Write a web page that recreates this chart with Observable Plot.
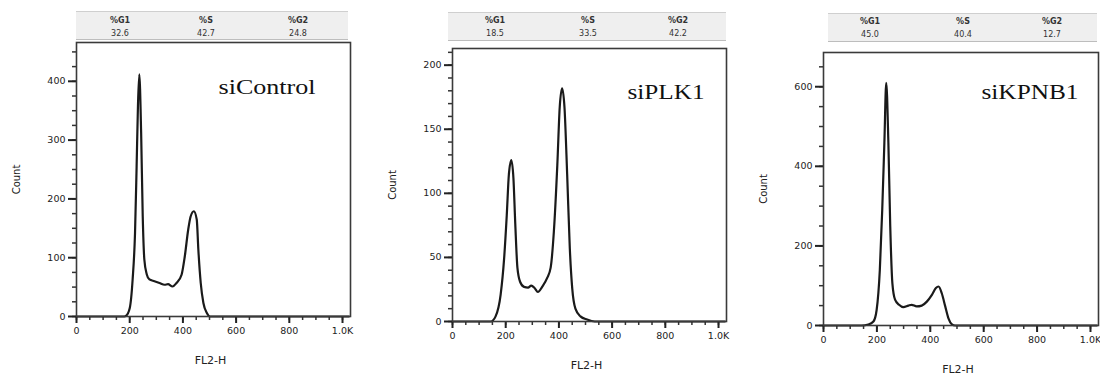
<!DOCTYPE html>
<html><head><meta charset="utf-8">
<script src="https://cdn.jsdelivr.net/npm/d3@7"></script>
<script src="https://cdn.jsdelivr.net/npm/@observablehq/plot@0.6"></script>
<style>
html,body{margin:0;padding:0;background:#fff;}
#root{position:relative;width:1100px;height:379px;overflow:hidden;font-family:"DejaVu Sans",sans-serif;}
.panel{position:absolute;}
.panel svg{overflow:visible;}
.tbl{position:absolute;background:#efefef;border-top:1px solid #cfcfcf;border-bottom:1.5px solid #bdbdbd;box-sizing:border-box;}
.cell{position:absolute;transform:translate(-50%,-50%);font-size:8px;color:#333;white-space:nowrap;line-height:1;}
.hdr{font-weight:bold;}
</style></head><body><div id="root"></div>
<script>
// ---- data ----
const samples = ["siControl", "siPLK1", "siKPNB1"];
const phaseLabels = ["%G1", "%S", "%G2"];
const pctG1 = [32.6, 18.5, 45.0];
const pctS  = [42.7, 33.5, 40.4];
const pctG2 = [24.8, 42.2, 12.7];

const ctrlX     = [0,180,186,200,211,220,226,231,236,243,249,255,264,274,293,312,331,344,361,376,395,407,420,429,441,452,458,467,477,490,502,1024];
const ctrlCount = [0,0,1,14,63,142,255,358,412,312,170,97,72,63,60,57,54,55,51,57,71,102,148,170,179,165,114,57,23,6,0,0];

const plkX     = [0,144,162,181,194,204,212,221,229,236,244,254,269,284,296,309,321,337,356,369,381,394,403,412,421,431,441,450,462,481,506,535,1024];
const plkCount = [0,0,4,21,49,83,115,126,112,76,42,31,27,26.5,28,26,23,27,34,42,70,122,167,182,167,115,57,26,10,4,1.5,0,0];

const kpnbX     = [0,143,168,187,199,211,220,228,235,243,250,258,268,283,299,318,330,349,368,387,406,421,431,443,456,468,481,493,1024];
const kpnbCount = [0,0,2.5,10,39,140,291,459,610,459,249,106,65,52,46,50,52,48,50,60,77,94,98,81,48,18,3,0,0];

const xMajorTicks = [0, 200, 400, 600, 800, 1000];
const xTickLabels = ["0", "200", "400", "600", "800", "1.0K"];
const xMinorTicks = d3.range(0, 1001, 50);

const ctrlYMajor = [0, 100, 200, 300, 400];
const plkYMajor  = [0, 50, 100, 150, 200];
const kpnbYMajor = [0, 200, 400, 600];

const seriesX = [ctrlX, plkX, kpnbX];
const seriesY = [ctrlCount, plkCount, kpnbCount];
const yMajors = [ctrlYMajor, plkYMajor, kpnbYMajor];
const yMinorSteps = [25, 10, 50];

// ---- layout ----
const layout = [
  {left:0,   top:40, width:370, height:336, ml:76, mr:20, mb:60, yMax:466, titleDx:142, titleDy:36, titleLen:97,
   tbl:{left:76, top:11, width:272, cols:[44,130,222]}},
  {left:370, top:46, width:370, height:330, ml:82, mr:14, mb:55, yMax:213, titleDx:175, titleDy:35, titleLen:77,
   tbl:{left:448, top:11.5, width:278, cols:[47,140,230]}},
  {left:740, top:50, width:360, height:327, ml:83, mr:2, mb:52, yMax:686, titleDx:158, titleDy:31, titleLen:97,
   tbl:{left:828, top:12.5, width:269, cols:[42,135,224]}}
];

const root = document.getElementById("root");

layout.forEach((p, i) => {
  // stats table
  const t = document.createElement("div");
  t.className = "tbl";
  Object.assign(t.style, {left: p.tbl.left + "px", top: p.tbl.top + "px", width: p.tbl.width + "px", height: "29px"});
  const vals = [pctG1[i], pctS[i], pctG2[i]];
  phaseLabels.forEach((lab, j) => {
    const h = document.createElement("span");
    h.className = "cell hdr"; h.textContent = lab;
    h.style.left = p.tbl.cols[j] + "px"; h.style.top = "8.5px";
    t.appendChild(h);
    const v = document.createElement("span");
    v.className = "cell"; v.textContent = vals[j].toFixed(1);
    v.style.left = p.tbl.cols[j] + "px"; v.style.top = "21.5px";
    t.appendChild(v);
  });
  root.appendChild(t);

  const data = seriesX[i].map((x, k) => ({x, y: seriesY[i][k]}));
  const yMinor = d3.range(0, p.yMax, yMinorSteps[i]);

  const chart = Plot.plot({
    width: p.width, height: p.height,
    marginLeft: p.ml, marginRight: p.mr, marginTop: 2, marginBottom: p.mb,
    style: {fontFamily: '"DejaVu Sans", sans-serif', background: "transparent", overflow: "visible"},
    x: {domain: [0, 1030]},
    y: {domain: [0, p.yMax]},
    marks: [
      Plot.axisX(xMinorTicks, {tickSize: 4, tickFormat: () => "", stroke: "#333", strokeWidth: 1.5, label: null}),
      Plot.axisX(xMajorTicks, {tickSize: 7, tickPadding: 4, tickFormat: d => xTickLabels[xMajorTicks.indexOf(d)],
        fontSize: 9.5, fill: "#222", stroke: "#222", strokeWidth: 2, label: null}),
      Plot.axisY(yMinor, {tickSize: 4, tickFormat: () => "", stroke: "#333", strokeWidth: 1.5, label: null}),
      Plot.axisY(yMajors[i], {tickSize: 8, tickPadding: 3, fontSize: 9.5, fill: "#222", stroke: "#222", strokeWidth: 2, label: null}),
      Plot.line(data, {x: "x", y: "y", curve: "monotone-x", stroke: "#1a1a1a", strokeWidth: 2.2}),
      Plot.frame({stroke: "#3a3a3a", strokeWidth: 1.6}),
      Plot.text(["Count"], {text: d => d, frameAnchor: "left", textAnchor: "middle", rotate: -90, dx: -60, fontSize: 10, fill: "#222"}),
      Plot.text(["FL2-H"], {text: d => d, frameAnchor: "bottom", textAnchor: "middle", dx: -3, dy: 47, fontSize: 11, fill: "#222"}),
      Plot.text([samples[i]], {text: d => d, frameAnchor: "top-left", textAnchor: "start", dx: p.titleDx, dy: p.titleDy,
        fontFamily: '"Liberation Serif", "Times New Roman", serif', fontSize: 22, fill: "#111"})
    ]
  });
  d3.select(chart).selectAll("text").filter(function() { return this.textContent === samples[i]; })
    .attr("textLength", p.titleLen).attr("lengthAdjust", "spacingAndGlyphs");

  const wrap = document.createElement("div");
  wrap.className = "panel";
  wrap.style.left = p.left + "px";
  wrap.style.top = p.top + "px";
  wrap.appendChild(chart);
  root.appendChild(wrap);
});
</script>
</body></html>
